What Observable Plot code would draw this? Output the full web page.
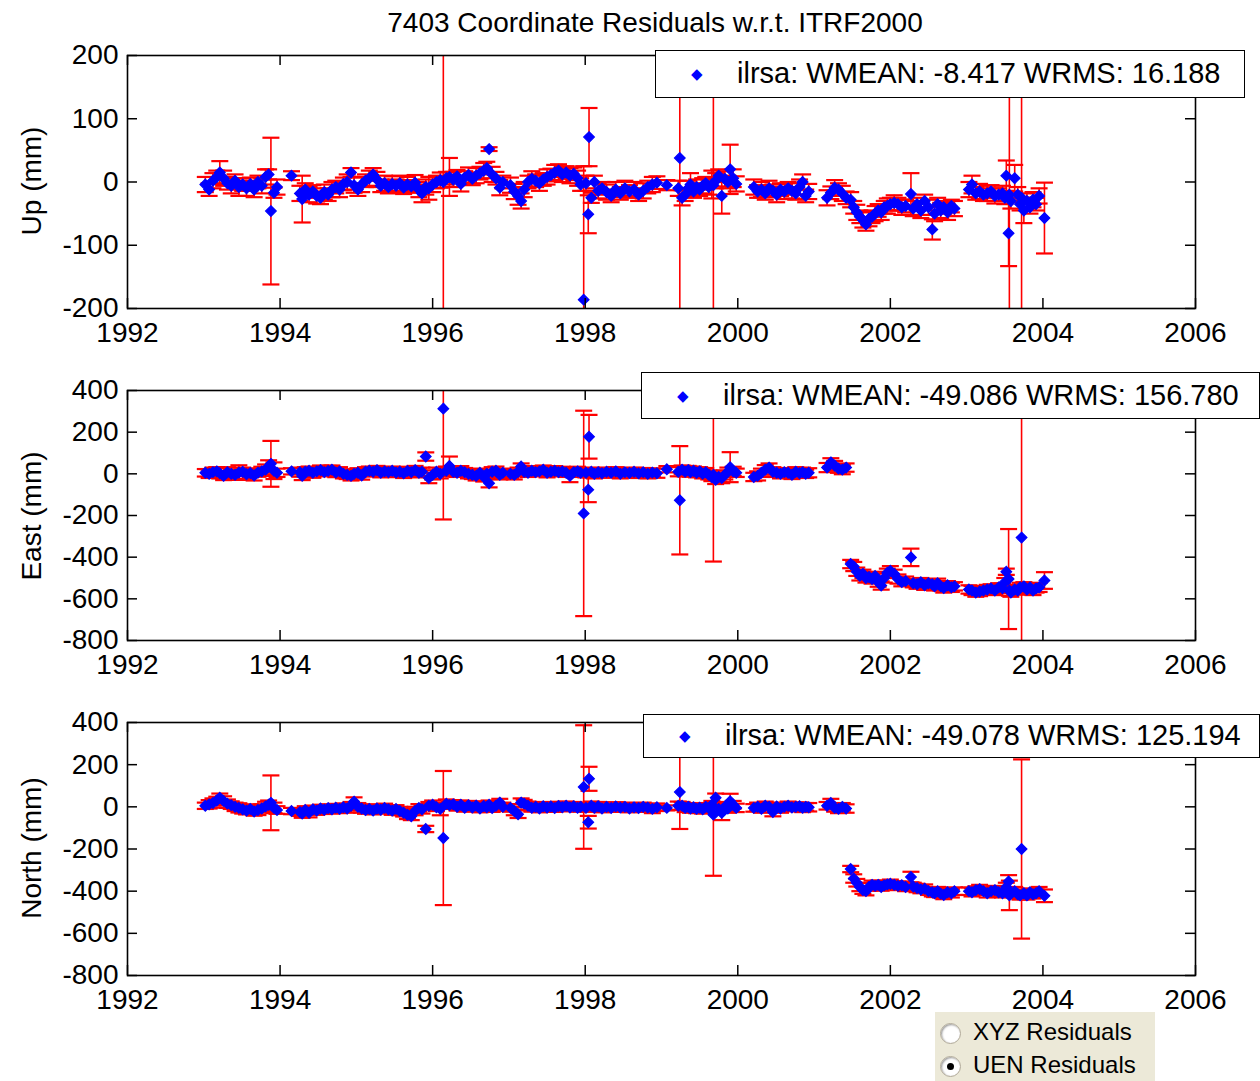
<!DOCTYPE html>
<html><head><meta charset="utf-8">
<script src="https://cdn.jsdelivr.net/npm/d3@7"></script>
<script src="https://cdn.jsdelivr.net/npm/@observablehq/plot@0.6"></script>
<style>
body{margin:0;background:#fff;}
#wrap{position:relative;width:1260px;height:1081px;overflow:hidden;background:#fff;font-family:"Liberation Sans",Arial,sans-serif;color:#000;}
.pl{position:absolute;left:0;}
.pl svg{overflow:visible;}
.title{position:absolute;left:655px;top:5px;transform:translateX(-50%);font-size:28px;line-height:36px;white-space:nowrap;}
.ylab{position:absolute;left:32px;font-size:28px;line-height:30px;white-space:nowrap;transform:translate(-50%,-50%) rotate(-90deg);}
.leg{position:absolute;box-sizing:border-box;border:1.5px solid #000;background:#fff;font-size:29px;white-space:nowrap;}
.leg .sw{position:absolute;color:#0000ff;font-size:15px;transform:translate(-50%,-50%);}
.leg .tx{position:absolute;}
.radio{position:absolute;left:935px;top:1012px;width:220px;height:69px;background:#ECE9D8;font-size:24px;}
.radio .c{position:absolute;width:19px;height:19px;border-radius:50%;background:#fff;border:1px solid #b0a998;box-shadow:inset 1px 1px 2px #999;}
.radio .dot{position:absolute;left:6px;top:6px;width:7px;height:7px;border-radius:50%;background:#000;}
.radio .t{position:absolute;left:38px;}
</style></head>
<body><div id="wrap"></div>
<script>
const xDomain = [1992, 2006];
const xTicks = [1992, 1994, 1996, 1998, 2000, 2002, 2004, 2006];
const upTicks = [-200, -100, 0, 100, 200];
const enTicks = [-800, -600, -400, -200, 0, 200, 400];
const titleText = "7403 Coordinate Residuals w.r.t. ITRF2000";
const panelLabels = ["Up (mm)", "East (mm)", "North (mm)"];
const legendTexts = [
  "ilrsa: WMEAN: -8.417 WRMS: 16.188",
  "ilrsa: WMEAN: -49.086 WRMS: 156.780",
  "ilrsa: WMEAN: -49.078 WRMS: 125.194"
];
const radioLabels = ["XYZ Residuals", "UEN Residuals"];

// [epoch (yr), residual (mm), sigma (mm)]
const upSeries = [
[1993.02,-4,12],[1993.07,-12,10],[1993.12,2,12],[1993.17,8,10],[1993.21,15,18],[1993.26,6,12],[1993.31,-2,10],
[1993.36,-6,12],[1993.41,2,10],[1993.46,-8,14],[1993.51,-4,10],[1993.56,-10,12],[1993.61,-3,10],[1993.66,-12,12],
[1993.71,0,10],[1993.76,-6,12],[1993.81,8,12],[1993.85,12,8],[1993.88,-46,116],[1993.92,-17,8],[1993.96,-8,12],
[1994.15,10,7],
[1994.26,-18,12],[1994.29,-27,37],[1994.33,-12,10],[1994.38,-20,12],[1994.43,-15,10],[1994.48,-22,12],[1994.53,-25,10],
[1994.58,-16,12],[1994.63,-20,10],[1994.68,-12,12],[1994.73,-8,10],[1994.78,-12,12],[1994.83,-3,10],[1994.88,0,12],
[1994.93,15,7],[1994.97,-5,12],[1995.02,-12,10],[1995.07,-4,12],[1995.12,2,10],[1995.17,6,12],[1995.22,12,10],
[1995.27,4,12],[1995.32,-6,10],[1995.37,-2,12],[1995.42,-8,10],[1995.47,-3,12],[1995.52,-6,10],[1995.57,-2,12],
[1995.62,-9,10],[1995.67,-4,12],[1995.72,-7,10],[1995.77,-1,12],[1995.82,-12,12],[1995.86,-18,14],[1995.91,-8,12],
[1995.95,-10,18],[1996.0,-4,12],[1996.05,0,10],[1996.1,3,12],[1996.14,0,400],[1996.18,6,10],[1996.22,8,30],
[1996.27,4,12],[1996.32,9,10],[1996.37,-3,12],[1996.42,7,10],[1996.47,11,12],[1996.52,5,10],[1996.57,10,12],
[1996.62,14,10],[1996.67,18,12],[1996.71,22,10],[1996.74,52,3],[1996.78,12,12],[1996.83,6,10],[1996.88,-9,12],[1996.92,0,10],
[1997.02,-5,12],[1997.07,-15,12],[1997.12,-22,14],[1997.16,-30,12],[1997.2,-12,12],[1997.25,0,10],[1997.3,5,12],
[1997.35,2,10],[1997.4,-2,12],[1997.45,4,10],[1997.5,8,12],[1997.55,11,10],[1997.6,15,12],[1997.65,18,10],
[1997.7,12,12],[1997.75,15,10],[1997.8,10,12],[1997.85,13,10],[1997.9,6,12],[1997.94,-4,10],[1997.98,-186,211],
[1998.01,-2,12],[1998.04,-51,30],[1998.05,71,46],[1998.08,-25,8],[1998.12,0,10],[1998.17,-14,12],[1998.22,-10,10],
[1998.28,-16,12],[1998.34,-22,10],[1998.4,-12,12],[1998.46,-18,10],[1998.52,-10,12],[1998.58,-15,10],[1998.64,-12,12],
[1998.7,-20,10],[1998.76,-14,12],[1998.82,-8,10],[1998.88,-4,12],[1998.94,-1,10],
[1999.07,-5,8],[1999.22,-10,12],[1999.24,38,400],[1999.27,-25,12],[1999.31,-20,10],[1999.35,-10,12],[1999.38,-4,18],
[1999.42,-15,10],[1999.46,-8,12],[1999.5,-12,10],[1999.54,-6,12],[1999.58,-2,10],[1999.62,-8,12],[1999.66,-4,22],
[1999.68,-5,400],[1999.71,2,12],[1999.75,10,10],[1999.79,-22,28],[1999.83,5,12],[1999.87,0,10],[1999.9,20,39],
[1999.94,6,14],[1999.98,-3,12],
[2000.21,-8,12],[2000.26,-15,10],[2000.31,-12,12],[2000.36,-18,10],[2000.41,-10,12],[2000.46,-14,10],[2000.51,-20,12],
[2000.56,-12,10],[2000.61,-15,12],[2000.66,-10,10],[2000.71,-14,12],[2000.76,-18,10],[2000.81,-8,12],[2000.85,0,12],
[2000.89,-22,10],[2000.93,-15,12],
[2001.17,-25,12],[2001.22,-17,10],[2001.27,-9,12],[2001.32,-12,10],[2001.37,-18,12],[2001.42,-25,10],
[2001.48,-28,12],[2001.52,-40,10],[2001.56,-48,12],[2001.6,-55,10],[2001.64,-60,12],[2001.68,-67,10],[2001.72,-58,12],
[2001.76,-55,10],[2001.8,-50,12],[2001.84,-45,10],[2001.88,-48,12],[2001.92,-40,10],[2001.96,-38,12],[2002.0,-35,10],
[2002.05,-33,12],[2002.1,-35,10],[2002.15,-40,12],[2002.2,-38,10],[2002.27,-19,33],[2002.3,-42,12],[2002.35,-35,10],
[2002.4,-45,12],[2002.45,-30,10],[2002.5,-40,12],[2002.55,-75,16],[2002.58,-50,12],[2002.62,-35,10],[2002.66,-45,12],
[2002.7,-40,10],[2002.75,-48,12],[2002.8,-38,10],[2002.84,-42,12],
[2003.03,-12,12],[2003.07,-4,14],[2003.12,-18,10],[2003.17,-15,12],[2003.22,-20,10],[2003.27,-18,12],[2003.32,-15,10],
[2003.37,-22,12],[2003.42,-20,10],[2003.47,-18,12],[2003.5,-25,10],[2003.52,10,24],[2003.55,-81,52],[2003.56,-20,300],
[2003.58,-30,12],[2003.63,6,21],[2003.67,-20,12],[2003.7,-35,10],[2003.72,-25,300],[2003.75,-45,20],[2003.79,-30,12],
[2003.83,-40,10],[2003.87,-28,12],[2003.91,-35,10],[2003.95,-22,12],[2004.02,-57,56]
];

const eastSeries = [
[1993.02,5,18],[1993.07,0,20],[1993.12,8,22],[1993.17,12,20],[1993.21,3,25],[1993.26,-10,20],[1993.31,8,24],
[1993.36,0,22],[1993.41,-5,20],[1993.46,6,35],[1993.51,10,20],[1993.56,-2,22],[1993.61,4,20],[1993.66,-8,24],
[1993.71,6,20],[1993.76,12,22],[1993.81,20,25],[1993.85,35,30],[1993.88,48,110],[1993.92,15,40],[1993.96,5,20],
[1994.15,12,15],
[1994.26,8,22],[1994.29,-10,20],[1994.33,10,22],[1994.38,15,20],[1994.43,5,24],[1994.48,12,20],[1994.53,18,22],
[1994.58,8,20],[1994.63,14,24],[1994.68,20,20],[1994.73,6,22],[1994.78,12,20],[1994.83,0,22],[1994.88,-5,20],
[1994.93,-10,22],[1994.97,0,20],[1995.02,5,22],[1995.07,-8,20],[1995.12,10,22],[1995.17,15,20],[1995.22,10,22],
[1995.27,18,20],[1995.32,5,22],[1995.37,12,20],[1995.42,8,22],[1995.47,15,20],[1995.52,6,22],[1995.57,10,20],
[1995.62,2,22],[1995.67,14,20],[1995.72,8,22],[1995.77,18,20],[1995.82,5,22],[1995.86,10,20],[1995.91,83,20],
[1995.95,-20,25],[1996.0,-5,22],[1996.05,10,20],[1996.1,0,22],[1996.14,313,532],[1996.18,15,20],[1996.22,38,45],
[1996.27,10,22],[1996.32,5,20],[1996.37,15,22],[1996.42,8,20],[1996.47,0,22],[1996.52,-5,20],[1996.57,-10,22],
[1996.62,5,20],[1996.67,-15,22],[1996.71,0,20],[1996.74,-45,20],[1996.78,10,22],[1996.83,15,20],[1996.88,-5,22],[1996.92,5,20],
[1997.02,0,20],[1997.07,-5,22],[1997.12,10,20],[1997.16,35,15],[1997.2,10,22],[1997.25,5,20],[1997.3,15,22],
[1997.35,8,20],[1997.4,12,22],[1997.45,20,20],[1997.5,5,22],[1997.55,10,20],[1997.6,15,22],[1997.65,8,20],
[1997.7,12,22],[1997.75,5,20],[1997.8,-10,30],[1997.85,8,20],[1997.9,12,22],[1997.94,5,20],[1997.98,-190,493],
[1998.01,5,22],[1998.04,-76,60],[1998.05,178,105],[1998.08,10,20],[1998.12,0,22],[1998.17,8,20],[1998.22,3,22],
[1998.28,10,20],[1998.34,5,22],[1998.4,12,20],[1998.46,0,22],[1998.52,8,20],[1998.58,4,22],[1998.64,10,20],
[1998.7,2,22],[1998.76,8,20],[1998.82,0,22],[1998.88,6,20],[1998.94,3,22],
[1999.07,22,15],[1999.22,10,22],[1999.24,-127,260],[1999.27,20,20],[1999.31,10,22],[1999.35,18,20],[1999.38,8,22],
[1999.42,15,20],[1999.46,5,22],[1999.5,12,20],[1999.54,0,22],[1999.58,8,20],[1999.62,-5,22],[1999.66,-15,20],
[1999.68,-5,416],[1999.71,-29,20],[1999.75,-15,22],[1999.79,-20,25],[1999.83,-5,22],[1999.87,10,20],[1999.9,32,72],
[1999.94,12,22],[1999.98,5,20],
[2000.21,-15,20],[2000.26,-10,22],[2000.31,5,20],[2000.36,20,22],[2000.41,30,20],[2000.46,10,22],[2000.51,5,20],
[2000.56,0,22],[2000.61,8,20],[2000.66,5,22],[2000.71,-5,20],[2000.76,10,22],[2000.81,3,20],[2000.85,8,22],
[2000.89,0,20],[2000.93,5,22],
[2001.17,30,22],[2001.22,55,20],[2001.27,40,22],[2001.32,25,20],[2001.37,20,22],[2001.42,30,20],
[2001.48,-433,20],[2001.52,-445,22],[2001.56,-470,20],[2001.6,-490,22],[2001.64,-480,20],[2001.68,-500,22],[2001.72,-495,20],
[2001.76,-505,22],[2001.8,-490,20],[2001.84,-520,22],[2001.88,-536,20],[2001.92,-500,22],[2001.96,-475,20],[2002.0,-465,22],
[2002.05,-480,20],[2002.1,-505,22],[2002.15,-520,20],[2002.2,-515,22],[2002.27,-401,42],[2002.3,-525,20],[2002.35,-530,22],
[2002.4,-520,20],[2002.45,-535,22],[2002.5,-525,20],[2002.55,-530,22],[2002.58,-540,20],[2002.62,-525,22],[2002.66,-540,20],
[2002.7,-548,22],[2002.75,-535,20],[2002.8,-545,22],[2002.84,-540,20],
[2003.03,-555,20],[2003.07,-560,22],[2003.12,-570,20],[2003.17,-565,22],[2003.22,-560,20],[2003.27,-555,22],[2003.32,-550,20],
[2003.37,-560,22],[2003.42,-545,20],[2003.47,-550,22],[2003.5,-520,20],[2003.52,-470,15],[2003.55,-505,240],[2003.56,-560,25],
[2003.58,-570,20],[2003.63,-555,22],[2003.67,-560,20],[2003.7,-545,22],[2003.72,-306,600],[2003.75,-540,20],[2003.79,-555,22],
[2003.83,-545,20],[2003.87,-560,22],[2003.91,-550,20],[2003.95,-545,22],[2004.02,-512,40]
];

const northSeries = [
[1993.02,5,15],[1993.07,12,20],[1993.12,18,22],[1993.17,30,18],[1993.21,43,20],[1993.26,28,22],[1993.31,15,20],
[1993.36,8,18],[1993.41,0,20],[1993.46,-5,22],[1993.51,-12,20],[1993.56,-18,18],[1993.61,-10,22],[1993.66,-22,20],
[1993.71,-15,24],[1993.76,-8,20],[1993.81,2,22],[1993.85,10,20],[1993.88,19,130],[1993.92,-5,25],[1993.96,-15,18],
[1994.15,-20,15],
[1994.26,-25,18],[1994.29,-32,20],[1994.33,-15,18],[1994.38,-28,22],[1994.43,-12,18],[1994.48,-18,20],[1994.53,-8,18],
[1994.58,-14,20],[1994.63,-6,18],[1994.68,-12,20],[1994.73,-4,18],[1994.78,-10,20],[1994.83,-2,18],[1994.88,-8,20],
[1994.93,5,18],[1994.97,25,20],[1995.02,0,18],[1995.07,-8,20],[1995.12,-15,18],[1995.17,-10,20],[1995.22,-18,18],
[1995.27,-8,20],[1995.32,-14,18],[1995.37,-5,20],[1995.42,-12,18],[1995.47,-18,20],[1995.52,-10,18],[1995.57,-20,20],
[1995.62,-28,18],[1995.67,-38,20],[1995.72,-45,18],[1995.77,-20,20],[1995.82,-5,18],[1995.86,-12,20],[1995.91,-105,15],
[1995.95,5,18],[1996.0,10,20],[1996.05,-2,18],[1996.1,-10,30],[1996.14,-148,318],[1996.18,15,20],[1996.22,8,18],
[1996.27,12,20],[1996.32,0,18],[1996.37,10,20],[1996.42,-5,18],[1996.47,8,20],[1996.52,-3,18],[1996.57,6,20],
[1996.62,-8,18],[1996.67,4,20],[1996.71,-2,18],[1996.74,10,20],[1996.78,-6,18],[1996.83,5,20],[1996.88,20,18],[1996.92,0,20],
[1997.02,-5,18],[1997.07,-20,20],[1997.12,-35,18],[1997.16,20,20],[1997.2,15,18],[1997.25,5,20],[1997.3,-5,18],
[1997.35,0,20],[1997.4,-8,18],[1997.45,3,20],[1997.5,-4,18],[1997.55,2,20],[1997.6,-6,18],[1997.65,4,20],
[1997.7,-2,18],[1997.75,5,20],[1997.8,-3,18],[1997.85,3,20],[1997.9,-5,18],[1997.94,0,20],[1997.98,94,293],
[1998.01,-5,18],[1998.04,-73,30],[1998.05,133,57],[1998.08,5,20],[1998.12,-5,18],[1998.17,3,20],[1998.22,-8,18],
[1998.28,0,20],[1998.34,-6,18],[1998.4,2,20],[1998.46,-4,18],[1998.52,0,20],[1998.58,-8,18],[1998.64,-2,20],
[1998.7,-6,18],[1998.76,0,20],[1998.82,-4,18],[1998.88,-10,20],[1998.94,-2,18],
[1999.07,-5,12],[1999.22,5,20],[1999.24,70,175],[1999.27,5,18],[1999.31,-5,20],[1999.35,0,18],[1999.38,-8,20],
[1999.42,-2,18],[1999.46,-10,20],[1999.5,-4,18],[1999.54,-12,20],[1999.58,0,18],[1999.62,-6,20],[1999.66,10,18],
[1999.68,-37,290],[1999.71,43,20],[1999.75,-10,18],[1999.79,-29,34],[1999.83,0,18],[1999.87,-8,20],[1999.9,27,35],
[1999.94,10,18],[1999.98,-5,20],
[2000.21,-5,18],[2000.26,0,20],[2000.31,-10,18],[2000.36,5,20],[2000.41,0,18],[2000.46,-25,20],[2000.51,2,18],
[2000.56,-8,20],[2000.61,0,18],[2000.66,5,20],[2000.71,-3,18],[2000.76,0,20],[2000.81,3,18],[2000.85,-5,20],
[2000.89,0,18],[2000.93,-2,20],
[2001.17,5,18],[2001.22,18,20],[2001.27,-5,18],[2001.32,-10,20],[2001.37,0,18],[2001.42,-8,20],
[2001.48,-295,15],[2001.52,-340,20],[2001.56,-360,18],[2001.6,-380,20],[2001.64,-395,18],[2001.68,-400,20],[2001.72,-380,18],
[2001.76,-370,20],[2001.8,-375,18],[2001.84,-370,20],[2001.88,-380,18],[2001.92,-372,20],[2001.96,-368,18],[2002.0,-365,20],
[2002.05,-370,18],[2002.1,-375,20],[2002.15,-372,18],[2002.2,-380,20],[2002.27,-333,25],[2002.3,-378,18],[2002.35,-385,20],
[2002.4,-392,18],[2002.45,-388,20],[2002.5,-400,18],[2002.55,-405,20],[2002.58,-410,18],[2002.62,-400,20],[2002.66,-412,18],
[2002.7,-418,20],[2002.75,-405,18],[2002.8,-410,20],[2002.84,-400,18],
[2003.03,-400,18],[2003.07,-405,20],[2003.12,-395,18],[2003.17,-390,20],[2003.22,-400,18],[2003.27,-410,20],[2003.32,-400,18],
[2003.37,-395,20],[2003.42,-405,18],[2003.47,-410,20],[2003.5,-400,18],[2003.52,-380,20],[2003.55,-354,30],[2003.56,-420,70],
[2003.58,-410,18],[2003.63,-400,20],[2003.67,-415,18],[2003.7,-420,20],[2003.72,-200,425],[2003.75,-410,18],[2003.79,-420,20],
[2003.83,-405,18],[2003.87,-415,20],[2003.91,-410,18],[2003.95,-400,20],[2004.02,-422,30]
];

const wrap = document.getElementById("wrap");
const W = 1260, mL = 127, mR = 65, mT = 14, mB = 52;
const frameW = W - mL - mR;
const capSymbol = {draw(ctx) { ctx.moveTo(-8.5, 0); ctx.lineTo(8.5, 0); }};
const fmt = d => String(d);

function makePanel(series, yDomain, yTicks, frameTop, frameH) {
  const [y0, y1] = yDomain;
  const rows = series.map(([t, v, s]) => ({t, v, lo: v - s, hi: v + s}));
  const bars = rows.map(d => ({t: d.t, lo: Math.max(d.lo, y0), hi: Math.min(d.hi, y1)})).filter(d => d.hi > d.lo);
  const caps = rows.flatMap(d => [d.lo, d.hi].filter(y => y >= y0 && y <= y1).map(y => ({t: d.t, y})));
  const pts = rows.filter(d => d.v >= y0 && d.v <= y1);
  const plot = Plot.plot({
    width: W, height: mT + frameH + mB,
    marginLeft: mL, marginRight: mR, marginTop: mT, marginBottom: mB,
    x: {domain: xDomain},
    y: {domain: yDomain},
    style: {fontFamily: '"Liberation Sans", Arial, sans-serif', fontSize: "28px", color: "#000", background: "transparent", overflow: "visible"},
    marks: [
      Plot.ruleX(bars, {x: "t", y1: "lo", y2: "hi", stroke: "#ff0000", strokeWidth: 1.6}),
      Plot.dot(caps, {x: "t", y: "y", symbol: capSymbol, r: 4, fill: "none", stroke: "#ff0000", strokeWidth: 2.2}),
      Plot.dot(pts, {x: "t", y: "v", symbol: "diamond2", r: 4.8, fill: "#0000ff", stroke: "#0000ff", strokeWidth: 1.2}),
      Plot.tickX(xTicks, {x: d => d, insetTop: frameH - 10, stroke: "#000", strokeWidth: 1.5}),
      Plot.tickX(xTicks, {x: d => d, insetBottom: frameH - 10, stroke: "#000", strokeWidth: 1.5}),
      Plot.tickY(yTicks, {y: d => d, insetRight: frameW - 10, stroke: "#000", strokeWidth: 1.5}),
      Plot.tickY(yTicks, {y: d => d, insetLeft: frameW - 10, stroke: "#000", strokeWidth: 1.5}),
      Plot.frame({stroke: "#000", strokeWidth: 1.6}),
      Plot.axisX({ticks: xTicks, tickSize: 0, tickPadding: 14, tickFormat: fmt, label: null, fill: "#000"}),
      Plot.axisY({ticks: yTicks, tickSize: 0, tickPadding: 9, tickFormat: fmt, label: null, fill: "#000"})
    ]
  });
  const div = document.createElement("div");
  div.className = "pl";
  div.style.top = (frameTop - mT) + "px";
  div.appendChild(plot);
  wrap.appendChild(div);
}

makePanel(upSeries, [-200, 200], upTicks, 55, 253);
makePanel(eastSeries, [-800, 400], enTicks, 390, 250);
makePanel(northSeries, [-800, 400], enTicks, 722, 253);

function addEl(cls, text, css) {
  const el = document.createElement("div");
  el.className = cls;
  if (text != null) el.textContent = text;
  Object.assign(el.style, css);
  wrap.appendChild(el);
  return el;
}
addEl("title", titleText, {});
[181, 516, 848].forEach((cy, i) => addEl("ylab", panelLabels[i], {top: cy + "px"}));

const legBoxes = [
  {left: 655, top: 50, width: 590, height: 48},
  {left: 641, top: 372, width: 619, height: 47},
  {left: 643, top: 714, width: 617, height: 44}
];
legBoxes.forEach((b, i) => {
  const el = addEl("leg", null, {left: b.left + "px", top: b.top + "px", width: b.width + "px", height: b.height + "px"});
  const sw = document.createElement("div");
  sw.className = "sw"; sw.textContent = "\u25C6";
  sw.style.left = "41px"; sw.style.top = (b.height / 2 - 1) + "px";
  el.appendChild(sw);
  const tx = document.createElement("div");
  tx.className = "tx"; tx.textContent = legendTexts[i];
  tx.style.left = "81px"; tx.style.top = "0px"; tx.style.lineHeight = (b.height - 3) + "px";
  el.appendChild(tx);
});

const radio = addEl("radio", null, {});
radioLabels.forEach((lab, i) => {
  const c = document.createElement("div");
  c.className = "c";
  c.style.left = "5px"; c.style.top = (11 + i * 33) + "px";
  if (i === 1) { const d = document.createElement("div"); d.className = "dot"; c.appendChild(d); }
  radio.appendChild(c);
  const t = document.createElement("div");
  t.className = "t"; t.textContent = lab;
  t.style.top = (5 + i * 33) + "px"; t.style.lineHeight = "30px";
  radio.appendChild(t);
});
</script>
</body></html>
